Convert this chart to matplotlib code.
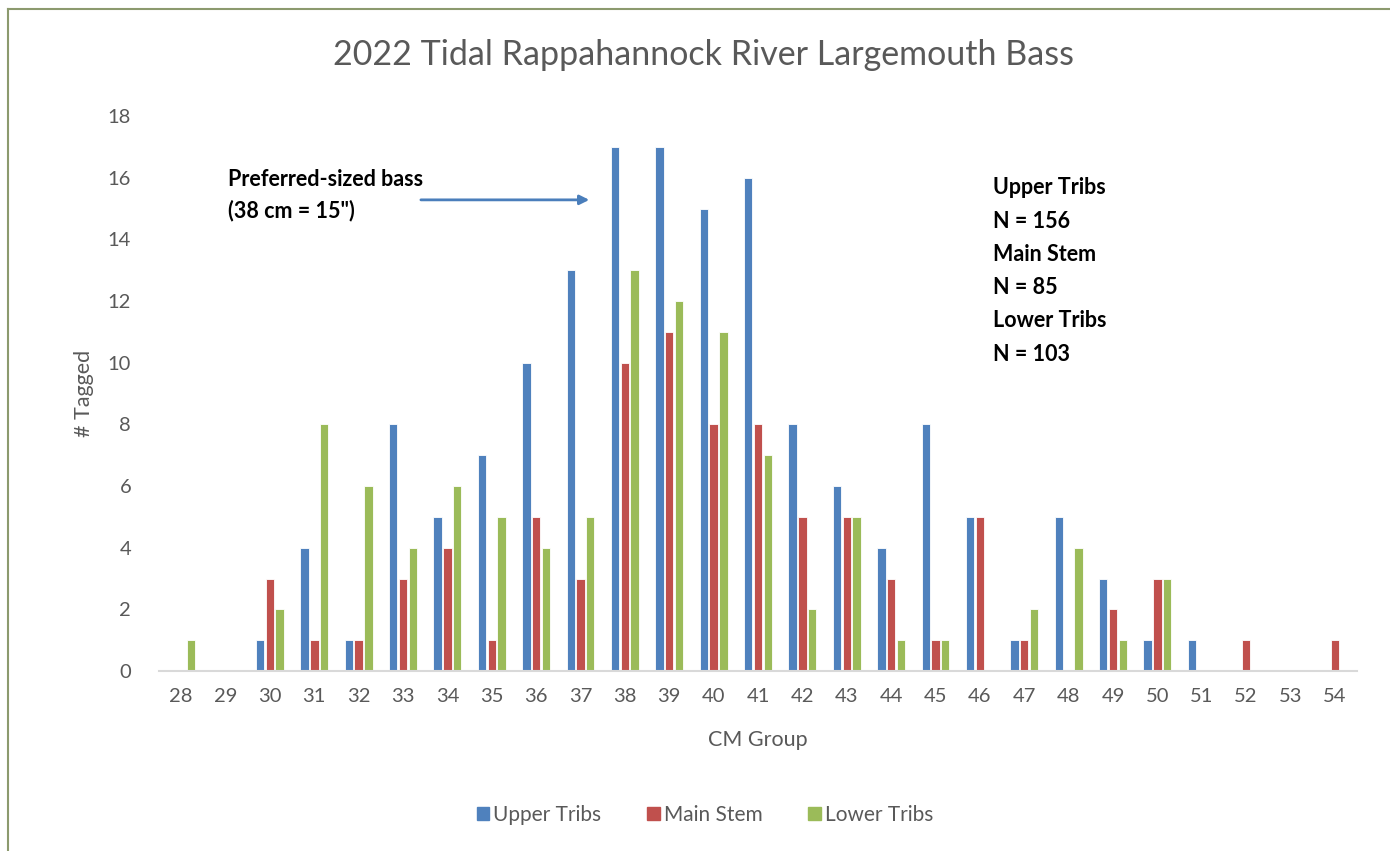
import matplotlib
matplotlib.use("Agg")
import matplotlib.pyplot as plt
import numpy as np
from matplotlib.lines import Line2D

cm_groups = list(range(28, 55))
upper_tribs = [0, 0, 1, 4, 1, 8, 5, 7, 10, 13, 17, 17, 15, 16, 8, 6, 4, 8, 5, 1, 5, 3, 1, 1, 0, 0, 0]
main_stem = [0, 0, 3, 1, 1, 3, 4, 1, 5, 3, 10, 11, 8, 8, 5, 5, 3, 1, 5, 1, 0, 2, 3, 0, 1, 0, 1]
lower_tribs = [1, 0, 2, 8, 6, 4, 6, 5, 4, 5, 13, 12, 11, 7, 2, 5, 1, 1, 0, 2, 4, 1, 3, 0, 0, 0, 0]
series_names = ["Upper Tribs", "Main Stem", "Lower Tribs"]
colors = ["#4F81BD", "#C0504D", "#9BBB59"]

plt.rcParams['font.family'] = ['Lato', 'DejaVu Sans']
fig = plt.figure(figsize=(13.9, 8.51), dpi=100)
ax = fig.add_axes([159/1390, 1-671/851, (1357-159)/1390, (671-116)/851])

x = np.arange(len(cm_groups))
w = 0.19
step = 0.22
for i, (vals, name, c) in enumerate(zip([upper_tribs, main_stem, lower_tribs], series_names, colors)):
    ax.bar(x + (i-1)*step, vals, width=w, color=c, edgecolor='white', linewidth=0.6, label=name)

ax.set_xlim(-0.5, len(cm_groups)-0.5)
ax.set_ylim(0, 18)
ax.set_yticks(range(0, 19, 2))
ax.set_xticks(x)
ax.set_xticklabels([str(c) for c in cm_groups])
ax.tick_params(length=0, labelsize=14.5, colors='#595959', pad=12)
ax.tick_params(axis='y', pad=20)
for s in ['top', 'right', 'left']:
    ax.spines[s].set_visible(False)
ax.spines['bottom'].set_color('#D9D9D9')
ax.spines['bottom'].set_linewidth(1.5)

ax.set_xlabel("CM Group", fontsize=15.5, color='#595959', labelpad=18)
ax.set_ylabel("# Tagged", fontsize=15.5, color='#595959', labelpad=10)

fig.text(703/1390, 1-55/851, "2022 Tidal Rappahannock River Largemouth Bass",
         ha='center', va='center', fontsize=24.5, color='#595959')

# annotation
ax.text(1.06, 15.42, "Preferred-sized bass\n(38 cm = 15\")", fontsize=15.5, fontweight='bold',
        color='black', ha='left', va='center', linespacing=1.55)
ax.annotate("", xy=(9.26, 15.28), xytext=(5.34, 15.28),
            arrowprops=dict(arrowstyle='-|>', color='#4A7EBB', lw=2, mutation_scale=14))

ax.text(18.29, 12.97, "Upper Tribs\nN = 156\nMain Stem\nN = 85\nLower Tribs\nN = 103",
        fontsize=15.5, fontweight='bold', color='black', ha='left', va='center', linespacing=1.72)

handles = [plt.Rectangle((0, 0), 1, 1, color=c) for c in colors]
fig.legend(handles, series_names, loc='center', bbox_to_anchor=(705/1390, 1-815/851), ncol=3,
           frameon=False, fontsize=15, labelcolor='#595959', handlelength=0.6, handleheight=0.6,
           handletextpad=0.2, columnspacing=2.2)

# border
fig.add_artist(Line2D([8/1390, 8/1390], [0, 1-9/851], transform=fig.transFigure, color='#8C9A6E', lw=1.5))
fig.add_artist(Line2D([8/1390, 1], [1-9/851, 1-9/851], transform=fig.transFigure, color='#8C9A6E', lw=1.5))

fig.savefig("out.png", dpi=100, facecolor='white')
